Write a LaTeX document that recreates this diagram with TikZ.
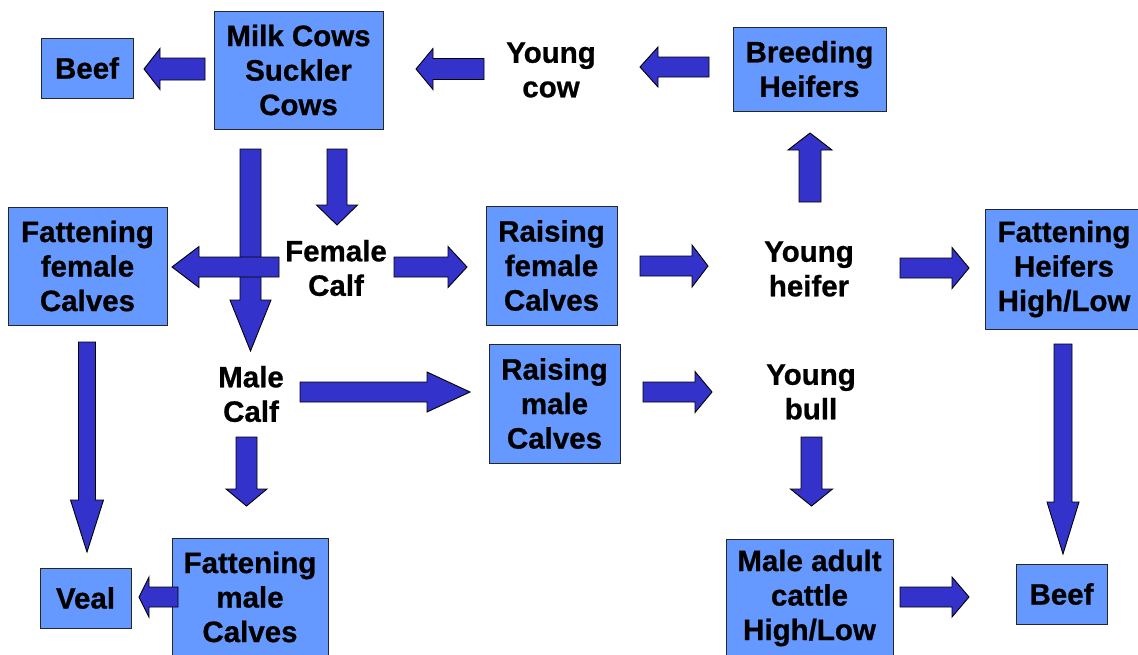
\documentclass[tikz,border=0pt]{standalone}
\usepackage{fontspec}
\setmainfont{Liberation Sans}[BoldFont={Liberation Sans Bold}, BoldFeatures={FakeBold=0.8}]
\usetikzlibrary{calc}
\definecolor{boxblue}{HTML}{6699FF}
\definecolor{arrblue}{HTML}{3333CC}
\tikzset{
  box/.style={draw=black!85, line width=0.9pt, fill=boxblue, align=center, inner sep=0pt,
    font=\bfseries\fontsize{29.5}{34.5}\selectfont},
  lbl/.style={align=center, inner sep=0pt, font=\bfseries\fontsize{29.5}{34.5}\selectfont},
  barr/.style={draw=black, line width=0.9pt, fill=arrblue, line join=miter}
}
% tail, tip, half shaft width, half head width, head length
\newcommand\blockarrow[5]{%
  \coordinate (bh) at ($(#2)!#5!(#1)$);
  \draw[barr] ($(#1)!#3!90:(#2)$) -- ($(bh)!#3!-90:(#1)$) -- ($(bh)!#4!-90:(#1)$) -- (#2)
     -- ($(bh)!#4!90:(#1)$) -- ($(bh)!#3!90:(#1)$) -- ($(#1)!#3!-90:(#2)$) -- cycle;
}
\begin{document}
\begin{tikzpicture}[x=1pt,y=-1pt]
\useasboundingbox (0,0) rectangle (1138,654);
\begin{scope}
\clip (0,0) rectangle (1138,654);
% boxes
\node[box, minimum width=92pt, minimum height=60pt] (beefA) at (87,68) {Beef};
\node[box, minimum width=169pt, minimum height=118pt] (milk) at (298.5,70) {Milk Cows\\Suckler\\Cows};
\node[box, minimum width=153pt, minimum height=84pt] (breed) at (809.5,69) {Breeding\\Heifers};
\node[box, minimum width=159pt, minimum height=118pt] (fatf) at (87.5,266) {Fattening\\female\\Calves};
\node[box, minimum width=131pt, minimum height=119pt] (raisf) at (551.5,265.5) {Raising\\female\\Calves};
\node[box, minimum width=158pt, minimum height=120pt] (fath) at (1064,269) {Fattening\\Heifers\\High/Low};
\node[box, minimum width=131pt, minimum height=119pt] (raism) at (554.5,403.5) {Raising\\male\\Calves};
\node[box, minimum width=91pt, minimum height=60pt] (veal) at (85.5,598) {Veal};
\node[box, minimum width=156pt, minimum height=118pt] (fatm) at (250,597) {Fattening\\male\\Calves};
\node[box, minimum width=167pt, minimum height=118pt] (adult) at (809.5,598) {Male adult\\cattle\\High/Low};
\node[box, minimum width=91pt, minimum height=60pt] (beefB) at (1061.5,594) {Beef};
% plain labels
\node[lbl] (youngcow) at (551,70) {Young\\cow};
\node[lbl] (femcalf) at (336,268) {Female\\Calf};
\node[lbl] (youngheifer) at (809,269) {Young\\heifer};
\node[lbl] (malecalf) at (251,394) {Male\\Calf};
\node[lbl] (youngbull) at (811,392) {Young\\bull};
% arrow end coordinates
\coordinate (a1t) at (205,69);   \coordinate (a1h) at (144,69);
\coordinate (a2t) at (484,69);   \coordinate (a2h) at (416,69);
\coordinate (a3t) at (709,67);   \coordinate (a3h) at (640,67);
\coordinate (a4t) at (810,202);  \coordinate (a4h) at (810,133);
\coordinate (a5t) at (250.5,149);\coordinate (a5h) at (250.5,351);
\coordinate (a6t) at (337,149);  \coordinate (a6h) at (337,225);
\coordinate (a7t) at (279,267);  \coordinate (a7h) at (172,267);
\coordinate (a8t) at (394,267);  \coordinate (a8h) at (467,267);
\coordinate (a9t) at (640,266);  \coordinate (a9h) at (708,266);
\coordinate (a10t) at (900,268); \coordinate (a10h) at (969,268);
\coordinate (a11t) at (300,392); \coordinate (a11h) at (470,392);
\coordinate (a12t) at (643,392); \coordinate (a12h) at (712,392);
\coordinate (a13t) at (246.5,437); \coordinate (a13h) at (246.5,506);
\coordinate (a14t) at (87,342);  \coordinate (a14h) at (87,552);
\coordinate (a15t) at (178,597); \coordinate (a15h) at (139,597);
\coordinate (a16t) at (811.5,437); \coordinate (a16h) at (811.5,506);
\coordinate (a17t) at (900,597); \coordinate (a17h) at (969,597);
\coordinate (a18t) at (1063,344);\coordinate (a18h) at (1063,554);
% arrows
\blockarrow{a1t}{a1h}{11pt}{20.5pt}{16pt}
\blockarrow{a2t}{a2h}{10.5pt}{20.5pt}{17pt}
\blockarrow{a3t}{a3h}{10pt}{20pt}{18pt}
\blockarrow{a4t}{a4h}{11pt}{22pt}{17pt}
\blockarrow{a5t}{a5h}{10.5pt}{20.5pt}{51pt}
\blockarrow{a6t}{a6h}{10pt}{20.5pt}{20pt}
\blockarrow{a7t}{a7h}{10pt}{20.5pt}{27pt}
\blockarrow{a8t}{a8h}{10pt}{20.5pt}{19pt}
\blockarrow{a9t}{a9h}{10pt}{21pt}{16pt}
\blockarrow{a10t}{a10h}{10pt}{20.5pt}{17pt}
\blockarrow{a11t}{a11h}{10pt}{20pt}{43pt}
\blockarrow{a12t}{a12h}{10pt}{20.5pt}{17pt}
\blockarrow{a13t}{a13h}{10.5pt}{20.5pt}{17pt}
\blockarrow{a14t}{a14h}{8.5pt}{16.5pt}{52pt}
\blockarrow{a15t}{a15h}{10pt}{20pt}{10pt}
\blockarrow{a16t}{a16h}{10.5pt}{21pt}{17pt}
\blockarrow{a17t}{a17h}{10pt}{20pt}{17pt}
\blockarrow{a18t}{a18h}{9pt}{16pt}{52pt}
\end{scope}
\end{tikzpicture}
\end{document}
